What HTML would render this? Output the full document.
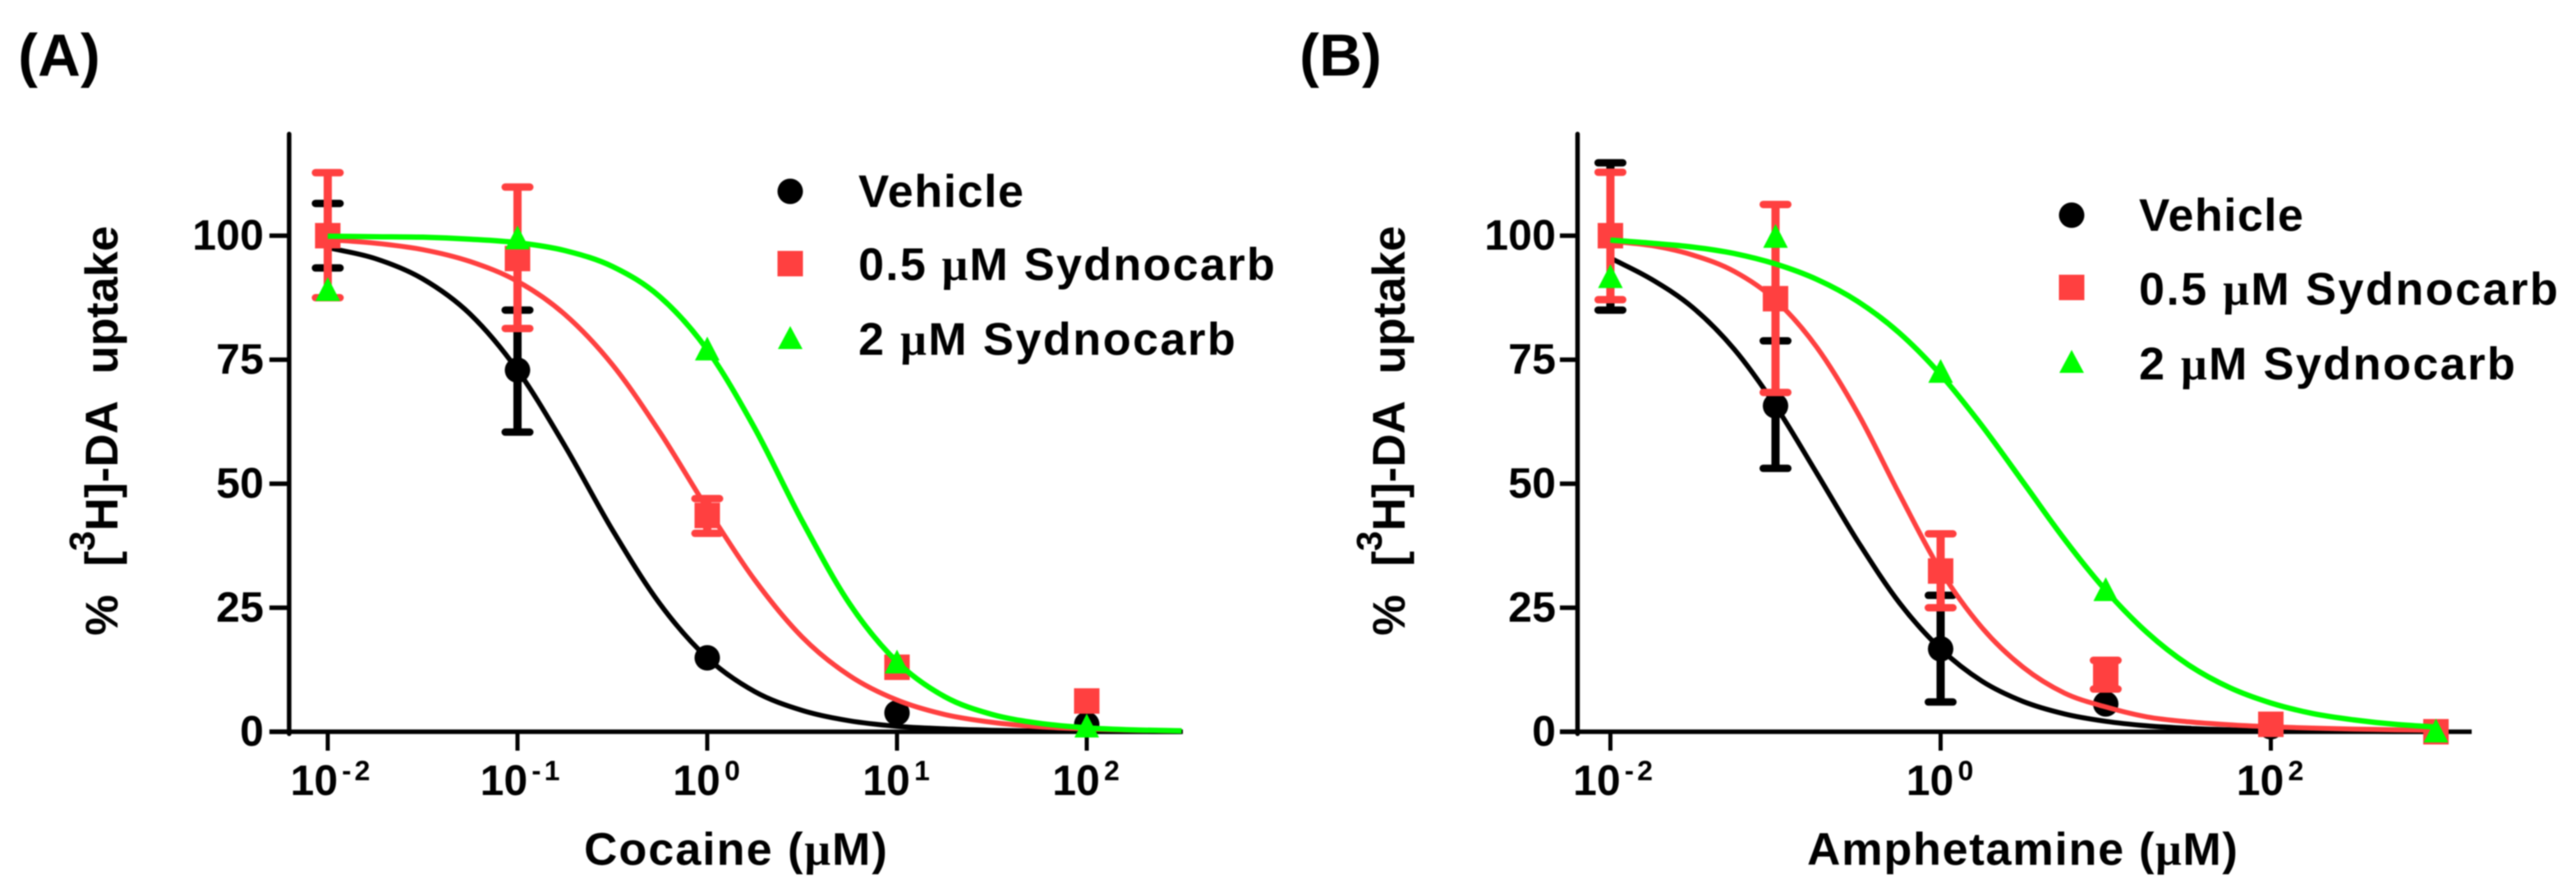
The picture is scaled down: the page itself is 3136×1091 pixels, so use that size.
<!DOCTYPE html>
<html lang="en">
<head>
<meta charset="utf-8">
<title>Sydnocarb dose-response curves</title>
<style>
  html, body { margin: 0; padding: 0; background: #fff; }
  svg { display: block; filter: blur(0.7px); }
  text { font-family: "Liberation Sans", Arial, sans-serif; font-weight: bold; fill: #000; }
  .mu { font-family: "Liberation Serif", serif; }
</style>
</head>
<body>
<svg id="figure" xmlns="http://www.w3.org/2000/svg" width="3136" height="1091" viewBox="0 0 3136 1091">
  <rect x="0" y="0" width="3136" height="1091" fill="#fff"/>
  <text x="22" y="92" font-size="72">(A)</text>
  <text x="1582" y="92" font-size="72">(B)</text>

  <g id="panel-a"></g>
  <g id="panel-b"></g>

  <text transform="translate(143,774) rotate(-90)" font-size="56" word-spacing="19">% [<tspan font-size="44" dy="-28">3</tspan><tspan dy="28">H]-DA uptake</tspan></text>
  <text transform="translate(1710,774) rotate(-90)" font-size="56" word-spacing="19">% [<tspan font-size="44" dy="-28">3</tspan><tspan dy="28">H]-DA uptake</tspan></text>
  <text x="711" y="1053" font-size="56" textLength="369">Cocaine (<tspan class="mu">μ</tspan>M)</text>
  <text x="2200" y="1053" font-size="56" textLength="524">Amphetamine (<tspan class="mu">μ</tspan>M)</text>

  <g>
    <circle cx="962" cy="233" r="15.5" fill="#000"/>
    <text x="1045" y="252" font-size="56" textLength="201">Vehicle</text>
    <rect x="946.5" y="305.5" width="31" height="31" fill="#ff4040"/>
    <text x="1045" y="341" font-size="56" textLength="507">0.5 <tspan class="mu">μ</tspan>M Sydnocarb</text>
    <polygon points="962,397 977,425 947,425" fill="#00ff00"/>
    <text x="1045" y="432" font-size="56" textLength="459">2 <tspan class="mu">μ</tspan>M Sydnocarb</text>
  </g>
  <g>
    <circle cx="2522" cy="262" r="15.5" fill="#000"/>
    <text x="2604" y="281" font-size="56" textLength="200">Vehicle</text>
    <rect x="2506.5" y="334.5" width="31" height="31" fill="#ff4040"/>
    <text x="2604" y="371" font-size="56" textLength="510">0.5 <tspan class="mu">μ</tspan>M Sydnocarb</text>
    <polygon points="2522,426 2537,454 2507,454" fill="#00ff00"/>
    <text x="2604" y="462" font-size="56" textLength="458">2 <tspan class="mu">μ</tspan>M Sydnocarb</text>
  </g>
</svg>

<script>
// ---------- shared axis data ----------
const yTickValues = [0, 25, 50, 75, 100];
const yAxisMax = 120.5;

// ---------- panel A data (log10 concentration, % uptake) ----------
const aTickExponents = [-2, -1, 0, 1, 2];
const aPointLog = [-2, -1, 0, 1, 2];
const aVehicleMean = [100, 72.9, 14.9, 3.8, 1.5];
const aVehicleUpper = [106.5, 85, null, null, null];
const aVehicleLower = [93.5, 60.4, null, null, null];
const aLowMean = [100, 95.4, 43.6, 13, 6.2];
const aLowUpper = [112.7, 109.8, 47, null, null];
const aLowLower = [87.5, 81.3, 40, null, null];
const aHighMean = [89, 99.4, 77, 13.9, 1];
const aCurveLog = [-2, -1.75, -1.5, -1.25, -1, -0.75, -0.5, -0.25, 0, 0.25, 0.5, 0.75, 1, 1.25, 1.5, 1.75, 2, 2.25, 2.5];
const aVehicleCurve = [97.6, 95.4, 91.3, 84.2, 72.9, 57.6, 40.7, 25.8, 14.9, 8.1, 4.3, 2.2, 1.1, 0.6, 0.3, 0.15, 0.07, 0.04, 0.02];
const aLowCurve = [99.2, 98.5, 97.2, 94.8, 90.8, 84.1, 74, 60.4, 45, 30.6, 19.1, 11.3, 6.4, 3.5, 1.9, 1, 0.56, 0.3, 0.16];
const aHighCurve = [99.9, 99.8, 99.7, 99.3, 98.6, 97, 93.8, 87.7, 77, 61.2, 42.5, 25.8, 14.1, 7.1, 3.5, 1.7, 0.8, 0.38, 0.18];

// ---------- panel B data (log10 concentration, % uptake) ----------
const bTickExponents = [-2, 0, 2];
const bPointLog = [-2, -1, 0, 1, 2, 3];
const bVehicleMean = [100, 65.7, 16.7, 5.6, 1, 0];
const bVehicleUpper = [114.7, 78.8, 27.5, null, null, null];
const bVehicleLower = [85, 53.1, 6, null, null, null];
const bLowMean = [100, 87.3, 32.4, 11.6, 1.5, 0];
const bLowUpper = [112.8, 106.3, 39.9, 14.4, null, null];
const bLowLower = [87.1, 68.4, 25, 8.6, null, null];
const bHighMean = [91.6, 99.7, 72.5, 28.5, null, 0];
const bCurveLog = [-2, -1.75, -1.5, -1.25, -1, -0.75, -0.5, -0.25, 0, 0.25, 0.5, 0.75, 1, 1.25, 1.5, 1.75, 2, 2.25, 2.5, 2.75, 3];
const bVehicleCurve = [95.5, 91.2, 85.5, 77.1, 65.7, 52.1, 38.3, 26, 16.7, 10.2, 6.1, 3.6, 2.1, 1.2, 0.7, 0.4, 0.2, 0.15, 0.1, 0.05, 0.03];
const bLowCurve = [98.9, 98, 96.1, 92.8, 87, 77.5, 64.1, 47.9, 32.5, 21, 13, 7.8, 5, 3, 2, 1.4, 1, 0.75, 0.55, 0.4, 0.3];
const bHighCurve = [99.1, 98.5, 97.7, 96.4, 94.3, 91.2, 86.7, 80.4, 72, 61.7, 50.3, 38.8, 28.5, 20, 13.5, 8.9, 5.8, 3.7, 2.4, 1.5, 0.94];

// ---------- drawing ----------
const SVG_NS = 'http://www.w3.org/2000/svg';
const RED = '#ff4040';
const GREEN = '#00ff00';
const BLACK = '#000000';

function make(tag, attrs, parent) {
  const el = document.createElementNS(SVG_NS, tag);
  for (const k in attrs) el.setAttribute(k, attrs[k]);
  parent.appendChild(el);
  return el;
}

function yScale(v) { return 891 - v * 6.04; }

function curvePath(logs, vals, xScale) {
  const px = logs.map(xScale);
  const py = vals.map(yScale);
  const n = px.length;
  const slope = i => {
    const a = Math.max(i - 1, 0), b = Math.min(i + 1, n - 1);
    return (py[b] - py[a]) / (px[b] - px[a]);
  };
  let d = 'M' + px[0].toFixed(1) + ' ' + py[0].toFixed(1);
  for (let i = 0; i < n - 1; i++) {
    const dx = (px[i + 1] - px[i]) / 3;
    d += ' C' + (px[i] + dx).toFixed(1) + ' ' + (py[i] + slope(i) * dx).toFixed(1) +
         ' ' + (px[i + 1] - dx).toFixed(1) + ' ' + (py[i + 1] - slope(i + 1) * dx).toFixed(1) +
         ' ' + px[i + 1].toFixed(1) + ' ' + py[i + 1].toFixed(1);
  }
  return d;
}

function drawAxes(g, id, xScale, opts, exponents) {
  const yTop = yScale(yAxisMax);
  const yAxis = make('line', {x1: opts.axisX, x2: opts.axisX, y1: yTop, y2: yScale(0) + 2.5, stroke: BLACK, 'stroke-width': 5.5, 'stroke-linecap': 'round'}, g);
  
  
  const xAxis = make('line', {x1: opts.tickLeft, x2: opts.axisEnd, y1: yScale(0), y2: yScale(0), stroke: BLACK, 'stroke-width': 5.5}, g);
  
  

  yTickValues.forEach(v => {
    const y = yScale(v);
    const tick = make('line', {x1: opts.tickLeft, x2: opts.axisX, y1: y, y2: y, stroke: BLACK, 'stroke-width': 5.5}, g);
    
    
    const label = make('text', {x: opts.labelRight, y: y + 17, 'font-size': 52, 'text-anchor': 'end'}, g);
    label.textContent = String(v);
    
    
  });

  exponents.forEach(e => {
    const x = xScale(e);
    const tick = make('line', {x1: x, x2: x, y1: yScale(0), y2: 914, stroke: BLACK, 'stroke-width': 5}, g);
    
    
    const label = make('text', {x: x + (e < 0 ? 5 : 1), y: 968, 'font-size': 52, 'text-anchor': 'middle'}, g);
    
    
    const base = make('tspan', {}, label);
    base.textContent = '10';
    const sup = make('tspan', {'font-size': 34, dy: -18, dx: 5, 'letter-spacing': 4}, label);
    sup.textContent = String(e);
  });
}

function drawErrors(g, id, series, logs, upper, lower, xScale, color) {
  logs.forEach((l, i) => {
    if (upper[i] === null || lower[i] === null) return;
    const x = xScale(l);
    const yu = yScale(upper[i]);
    const yl = yScale(lower[i]);
    const stem = make('line', {x1: x, x2: x, y1: yu, y2: yl, stroke: color, 'stroke-width': 10}, g);
    
    
    [yu, yl].forEach((y, k) => {
      const cap = make('line', {x1: x - 15, x2: x + 15, y1: y, y2: y, stroke: color, 'stroke-width': 9, 'stroke-linecap': 'round'}, g);
      
      
    });
  });
}

function drawCurve(g, id, series, logs, vals, xScale, color) {
  const path = make('path', {d: curvePath(logs, vals, xScale), fill: 'none', stroke: color, 'stroke-width': series === 'high' ? 6.5 : 6}, g);
  
  
}

function drawPoints(g, id, series, logs, means, xScale, color, shape) {
  logs.forEach((l, i) => {
    if (means[i] === null) return;
    const x = xScale(l);
    const y = yScale(means[i]);
    let mark;
    if (shape === 'circle') {
      mark = make('circle', {cx: x, cy: y, r: 15.5, fill: color}, g);
    } else if (shape === 'square') {
      mark = make('rect', {x: x - 15.5, y: y - 15.5, width: 31, height: 31, fill: color}, g);
    } else {
      const pts = x + ',' + (y - 16) + ' ' + (x + 15) + ',' + (y + 13) + ' ' + (x - 15) + ',' + (y + 13);
      mark = make('polygon', {points: pts, fill: color}, g);
    }
    
    
  });
}

function xScaleA(l) { return 861 + 231 * l; }
function xScaleB(l) { return 2362.5 + 201 * l; }

const gA = document.getElementById('panel-a');
drawAxes(gA, 'a', xScaleA, {axisX: 352, tickLeft: 328, axisEnd: 1440, labelRight: 321}, aTickExponents);
drawErrors(gA, 'a', 'vehicle', aPointLog, aVehicleUpper, aVehicleLower, xScaleA, BLACK);
drawCurve(gA, 'a', 'vehicle', aCurveLog, aVehicleCurve, xScaleA, BLACK);
drawPoints(gA, 'a', 'vehicle', aPointLog, aVehicleMean, xScaleA, BLACK, 'circle');
drawErrors(gA, 'a', 'low', aPointLog, aLowUpper, aLowLower, xScaleA, RED);
drawCurve(gA, 'a', 'low', aCurveLog, aLowCurve, xScaleA, RED);
drawPoints(gA, 'a', 'low', aPointLog, aLowMean, xScaleA, RED, 'square');
drawCurve(gA, 'a', 'high', aCurveLog, aHighCurve, xScaleA, GREEN);
drawPoints(gA, 'a', 'high', aPointLog, aHighMean, xScaleA, GREEN, 'triangle');

const gB = document.getElementById('panel-b');
drawAxes(gB, 'b', xScaleB, {axisX: 1920.5, tickLeft: 1899, axisEnd: 3009, labelRight: 1894}, bTickExponents);
drawErrors(gB, 'b', 'vehicle', bPointLog, bVehicleUpper, bVehicleLower, xScaleB, BLACK);
drawCurve(gB, 'b', 'vehicle', bCurveLog, bVehicleCurve, xScaleB, BLACK);
drawPoints(gB, 'b', 'vehicle', bPointLog, bVehicleMean, xScaleB, BLACK, 'circle');
drawErrors(gB, 'b', 'low', bPointLog, bLowUpper, bLowLower, xScaleB, RED);
drawCurve(gB, 'b', 'low', bCurveLog, bLowCurve, xScaleB, RED);
drawPoints(gB, 'b', 'low', bPointLog, bLowMean, xScaleB, RED, 'square');
drawCurve(gB, 'b', 'high', bCurveLog, bHighCurve, xScaleB, GREEN);
drawPoints(gB, 'b', 'high', bPointLog, bHighMean, xScaleB, GREEN, 'triangle');
</script>
</body>
</html>
